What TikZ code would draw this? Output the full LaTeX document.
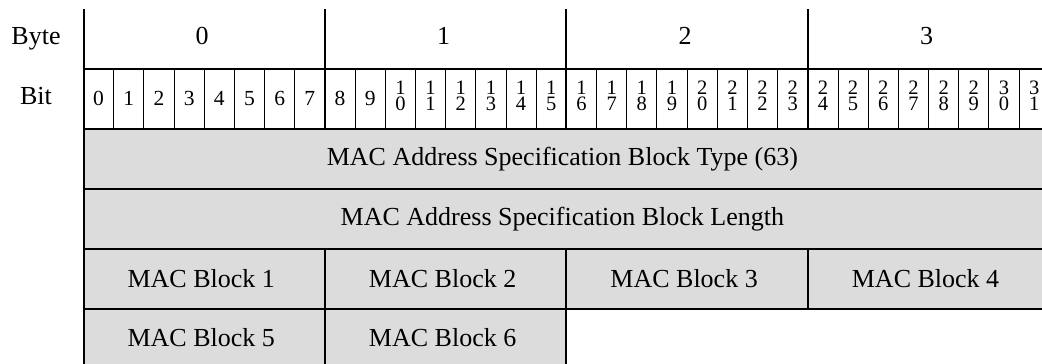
\documentclass[tikz,border=0pt]{standalone}
\usepackage{fontspec}
\setmainfont{Liberation Serif}
\definecolor{cellgray}{RGB}{220,220,220}
\begin{document}
\begin{tikzpicture}[x=1pt,y=-1pt,
  thickline/.style={line width=2pt},
  thinline/.style={line width=0.9pt},
  big/.style={font=\fontsize{26}{30}\selectfont, inner sep=0pt},
  bitnum/.style={font=\fontsize{21.5}{16}\selectfont, inner sep=0pt, anchor=base},
  pair/.style={font=\fontsize{20.5}{15.5}\selectfont, inner sep=0pt, align=center, anchor=north}]
\useasboundingbox (0,0) rectangle (1042,364);
\clip (0,0) rectangle (1042,364);
\def\xo{83.5}
\def\bw{30.18}
% fills
\fill[cellgray] (\xo,128.5) rectangle (1055,309);
\fill[cellgray] (\xo,309) rectangle ({\xo+16*\bw},372);
% thin bit dividers
\foreach \i in {1,...,31}{
  \pgfmathtruncatemacro\r{mod(\i,8)}
  \ifnum\r=0\relax\else
    \draw[thinline] ({\xo+\i*\bw},69) -- ({\xo+\i*\bw},128.5);
  \fi
}
% byte dividers in header
\foreach \i in {8,16,24,32}{
  \draw[thickline] ({\xo+\i*\bw},9) -- ({\xo+\i*\bw},128.5);
}
% left border
\draw[thickline] (\xo,9) -- (\xo,372);
% horizontal lines
\foreach \y in {69,128.5,189,248.5,309}{
  \draw[thickline] (\xo,\y) -- (1055,\y);
}
% row 4 dividers
\foreach \i in {8,16,24}{
  \draw[thickline] ({\xo+\i*\bw},248.5) -- ({\xo+\i*\bw},309);
}
% row 5 dividers
\foreach \i in {8,16}{
  \draw[thickline] ({\xo+\i*\bw},309) -- ({\xo+\i*\bw},372);
}
% labels
\node[big, anchor=base] (bytelbl) at (36,45) {Byte};
\node[big, anchor=base] (bitlbl) at (36,104) {Bit};
\foreach \b in {0,1,2,3}{
  \node[big, anchor=base] (byte\b) at ({\xo+(8*\b+4)*\bw-2},45) {\b};
}
\foreach \i in {0,...,9}{
  \node[bitnum] (bit\i) at ({\xo+(\i+0.5)*\bw},105) {\i};
}
\foreach \i in {10,...,31}{
  \pgfmathtruncatemacro\tn{int(\i/10)}
  \pgfmathtruncatemacro\on{mod(\i,10)}
  \node[pair] (bit\i) at ({\xo+(\i+0.5)*\bw},81) {\tn\\\on};
}
\node[big] (type) at ({\xo+16*\bw-4},159) {MAC Address Specification Block Type (63)};
\node[big] (len) at ({\xo+16*\bw-4},219) {MAC Address Specification Block Length};
\foreach \k/\c in {1/4,2/12,3/20,4/28}{
  \node[big] (mac\k) at ({\xo+\c*\bw-3},279) {MAC Block \k};
}
\foreach \k/\c in {5/4,6/12}{
  \node[big] (mac\k) at ({\xo+\c*\bw-3},338) {MAC Block \k};
}
\end{tikzpicture}
\end{document}
